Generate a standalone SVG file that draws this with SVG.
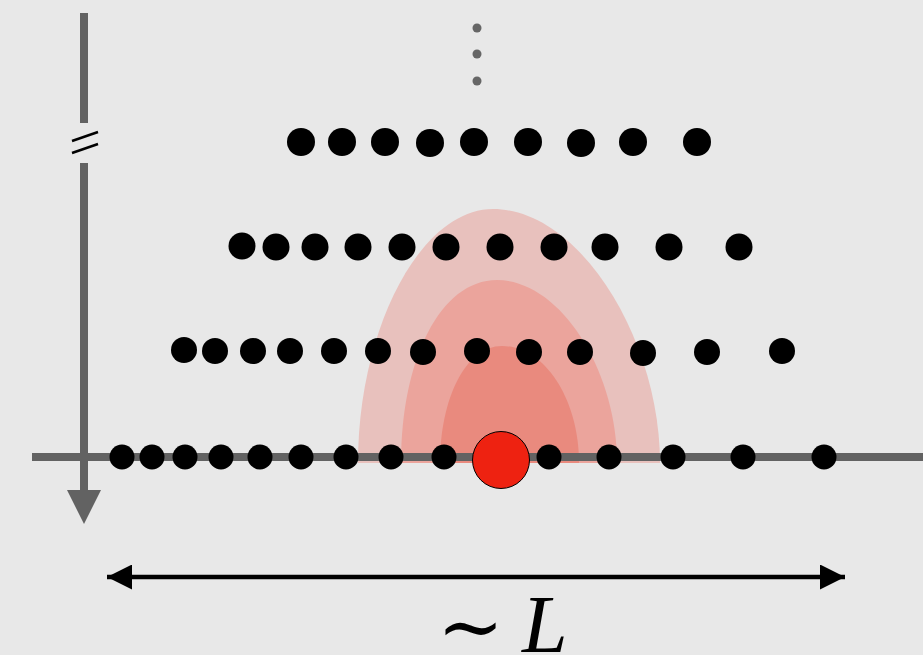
<svg xmlns="http://www.w3.org/2000/svg" width="923" height="655" viewBox="0 0 923 655">
<style>
.dot{fill:#000}
.ax{stroke:#626262;stroke-width:8;fill:none}
.brk{stroke:#000;stroke-width:2.5}
</style>
<defs>
<marker id="ah" markerWidth="25" markerHeight="25" refX="25" refY="12.5" orient="auto-start-reverse" markerUnits="userSpaceOnUse">
<path d="M0,0 L25,12.5 L0,25 Z" fill="#000"/>
</marker>
</defs>
<rect width="923" height="655" fill="#e8e8e8"/>
<g id="field">
<path d="M358,463 C358,330 420,209 493,209 C580,209 660,340 660,463 Z" fill="#e8c1bd"/>
<path d="M401,463 C401,360 440,280 497,280 C560,280 617,370 617,463 Z" fill="#eba49c"/>
<path d="M440,463 C440,400 465,346 502,346 C545,346 579,400 579,463 Z" fill="#e98a7e"/>
</g>
<g id="connectors">
<line class="ax" x1="84" y1="13" x2="84" y2="123"/>
<line class="ax" x1="84" y1="163" x2="84" y2="492"/>
<path d="M67,490 L101,490 L84,524 Z" fill="#626262"/>
<line class="brk" x1="72" y1="141" x2="98" y2="132"/>
<line class="brk" x1="72" y1="153" x2="98" y2="144"/>
<line class="ax" x1="32" y1="457" x2="923" y2="457"/>
<line x1="107" y1="577" x2="845" y2="577" stroke="#000" stroke-width="4.5" marker-start="url(#ah)" marker-end="url(#ah)"/>
</g>
<g id="vdots" fill="#666">
<circle cx="477" cy="28" r="4.5"/><circle cx="477" cy="54" r="4.5"/><circle cx="477" cy="81" r="4.5"/>
</g>
<g id="row1" class="dot">
<circle cx="301" cy="142" r="14"/><circle cx="342" cy="142" r="14"/><circle cx="385" cy="142" r="14"/><circle cx="430" cy="143" r="14"/><circle cx="474" cy="142" r="14"/><circle cx="528" cy="142" r="14"/><circle cx="581" cy="143" r="14"/><circle cx="633" cy="142" r="14"/><circle cx="697" cy="142" r="14"/>
</g>
<g id="row2" class="dot">
<circle cx="242" cy="246" r="13.5"/><circle cx="276" cy="247" r="13.5"/><circle cx="315" cy="247" r="13.5"/><circle cx="358" cy="247" r="13.5"/><circle cx="402" cy="247" r="13.5"/><circle cx="446" cy="247" r="13.5"/><circle cx="500" cy="247" r="13.5"/><circle cx="554" cy="247" r="13.5"/><circle cx="605" cy="247" r="13.5"/><circle cx="669" cy="247" r="13.5"/><circle cx="739" cy="247" r="13.5"/>
</g>
<g id="row3" class="dot">
<circle cx="184" cy="350" r="13"/><circle cx="215" cy="351" r="13"/><circle cx="253" cy="351" r="13"/><circle cx="290" cy="351" r="13"/><circle cx="334" cy="351" r="13"/><circle cx="378" cy="351" r="13"/><circle cx="423" cy="352" r="13"/><circle cx="477" cy="351" r="13"/><circle cx="529" cy="352" r="13"/><circle cx="580" cy="352" r="13"/><circle cx="643" cy="353" r="13"/><circle cx="707" cy="352" r="13"/><circle cx="782" cy="351" r="13"/>
</g>
<g id="row4" class="dot">
<circle cx="122" cy="457" r="12.5"/><circle cx="152" cy="457" r="12.5"/><circle cx="185" cy="457" r="12.5"/><circle cx="221" cy="457" r="12.5"/><circle cx="260" cy="457" r="12.5"/><circle cx="301" cy="457" r="12.5"/><circle cx="346" cy="457" r="12.5"/><circle cx="391" cy="457" r="12.5"/><circle cx="444" cy="457" r="12.5"/><circle cx="549" cy="457" r="12.5"/><circle cx="609" cy="457" r="12.5"/><circle cx="673" cy="457" r="12.5"/><circle cx="743" cy="457" r="12.5"/><circle cx="824" cy="457" r="12.5"/>
</g>
<g id="source">
<circle cx="501" cy="460" r="28.5" fill="#ee2211" stroke="#000" stroke-width="1"/>
</g>
<g id="label">
<text x="437" y="654" font-family="'DejaVu Serif', serif" font-size="80" fill="#000">∼</text>
<text x="522" y="652" font-family="'Liberation Serif', serif" font-style="italic" font-size="82" fill="#000">L</text>
</g>
</svg>
